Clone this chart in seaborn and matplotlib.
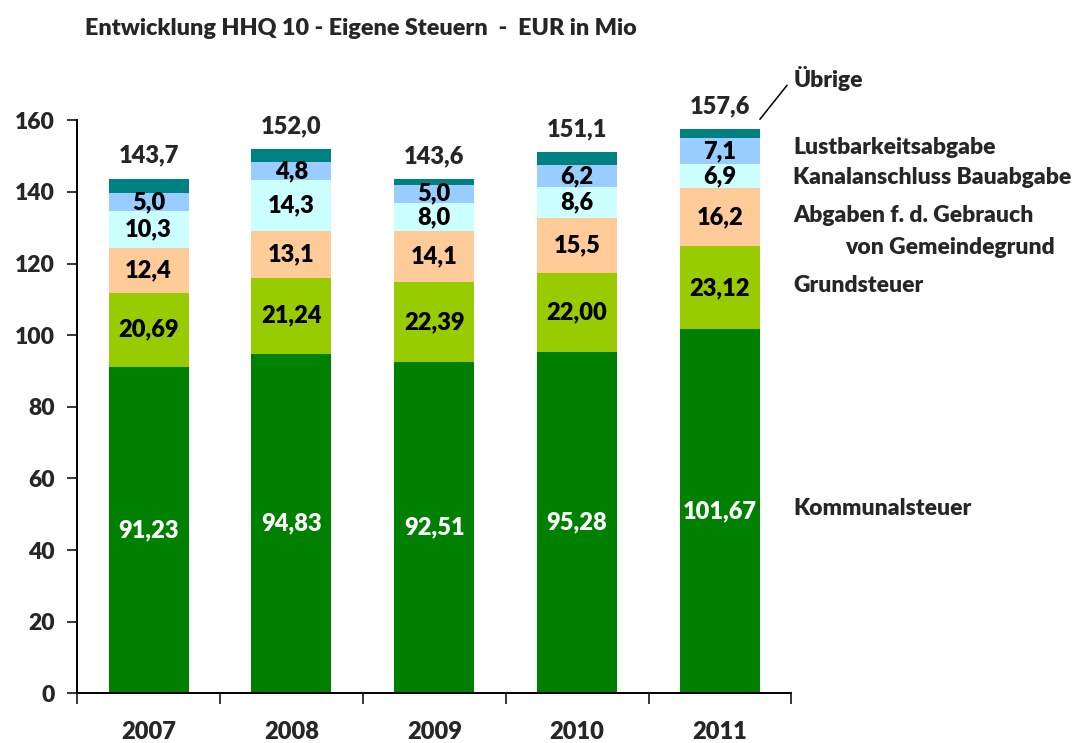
import numpy as np
import pandas as pd
import matplotlib
matplotlib.use("Agg")
import matplotlib.pyplot as plt
import seaborn as sns

# Daten (EUR in Mio)
jahre = ["2007", "2008", "2009", "2010", "2011"]
kommunalsteuer = [91.23, 94.83, 92.51, 95.28, 101.67]
grundsteuer = [20.69, 21.24, 22.39, 22.00, 23.12]
abgaben_gebrauch = [12.4, 13.1, 14.1, 15.5, 16.2]
kanalanschluss = [10.3, 14.3, 8.0, 8.6, 6.9]
lustbarkeit = [5.0, 4.8, 5.0, 6.2, 7.1]
uebrige = [4.1, 3.7, 1.6, 3.5, 2.6]
gesamt = [143.7, 152.0, 143.6, 151.1, 157.6]

schichten = [
    ("Kommunalsteuer", kommunalsteuer, "#008000", "{:.2f}", "white"),
    ("Grundsteuer", grundsteuer, "#99CC00", "{:.2f}", "black"),
    ("Abgaben", abgaben_gebrauch, "#FFCC99", "{:.1f}", "black"),
    ("Kanalanschluss", kanalanschluss, "#CCFFFF", "{:.1f}", "black"),
    ("Lustbarkeit", lustbarkeit, "#99CCFF", "{:.1f}", "black"),
    ("Uebrige", uebrige, "#008080", None, "black"),
]

sns.set_style("white")
plt.rcParams["font.family"] = ["Lato", "DejaVu Sans"]
W = "heavy"
plt.rcParams["font.weight"] = W

fig = plt.figure(figsize=(10.87, 7.43), dpi=100)
ax = fig.add_axes([0.071, 0.067, 0.657, 0.771])

df = pd.DataFrame({"jahr": jahre})
kum = np.zeros(len(jahre))
unten = []
for name, werte, farbe, fmt, tfarbe in schichten:
    unten.append(kum.copy())
    kum = kum + np.array(werte)
    df[name] = kum

# kumulierte Balken von oben nach unten zeichnen
for (name, werte, farbe, fmt, tfarbe) in reversed(schichten):
    sns.barplot(data=df, x="jahr", y=name, color=farbe, saturation=1,
                width=0.56, ax=ax, zorder=2, linewidth=0, edgecolor="none")

# Werte in den Segmenten
for (name, werte, farbe, fmt, tfarbe), u in zip(schichten, unten):
    if fmt is None:
        continue
    for i, v in enumerate(werte):
        ax.text(i, u[i] + v / 2, fmt.format(v).replace(".", ","), ha="center",
                va="center", fontsize=17, fontweight=W, color=tfarbe, zorder=3)

for i, t in enumerate(gesamt):
    ax.text(i, t + 6.4, f"{t:.1f}".replace(".", ","), ha="center", va="center",
            fontsize=17, fontweight=W, clip_on=False)

# Beschriftung rechts
lx = 4.515
labels_rechts = [
    ("Lustbarkeitsabgabe", 152.5, lx),
    ("Kanalanschluss Bauabgabe", 144.1, lx),
    ("Abgaben f. d. Gebrauch", 133.3, lx),
    ("von Gemeindegrund", 124.5, lx + 0.36),
    ("Grundsteuer", 113.9, lx),
    ("Kommunalsteuer", 51.7, lx),
    ("Übrige", 171.7, lx),
]
for txt, y, x in labels_rechts:
    ax.text(x, y, txt, ha="left", va="center", fontsize=16.5,
            fontweight=W, clip_on=False)
ax.plot([4.28, 4.47], [160.3, 169.8], color="black", lw=1.1, clip_on=False)

ax.set_ylim(0, 160)
ax.set_xlim(-0.5, 4.5)
ax.set_yticks(range(0, 161, 20))
ax.set_yticklabels([str(v) for v in range(0, 161, 20)], fontsize=16.5, fontweight=W)
ax.set_xticks(np.arange(-0.5, 5, 1))
ax.set_xticklabels([])
ax.set_xticks(range(5), minor=True)
ax.set_xticklabels(jahre, minor=True, fontsize=17, fontweight=W)
ax.tick_params(axis="x", which="major", direction="out", length=8, width=1.3, bottom=True)
ax.tick_params(axis="x", which="minor", length=0, pad=20)
ax.tick_params(axis="y", direction="out", length=7, width=1.3, left=True, pad=9)
ax.set_xlabel("")
ax.set_ylabel("")
sns.despine(ax=ax)
for s in ["left", "bottom"]:
    ax.spines[s].set_color("black")
    ax.spines[s].set_linewidth(1.4)

fig.text(0.078, 0.962, "Entwicklung HHQ 10 - Eigene Steuern  -  EUR in Mio",
         ha="left", va="center", fontsize=16.8, fontweight=W)

fig.savefig("out.png", dpi=100)
